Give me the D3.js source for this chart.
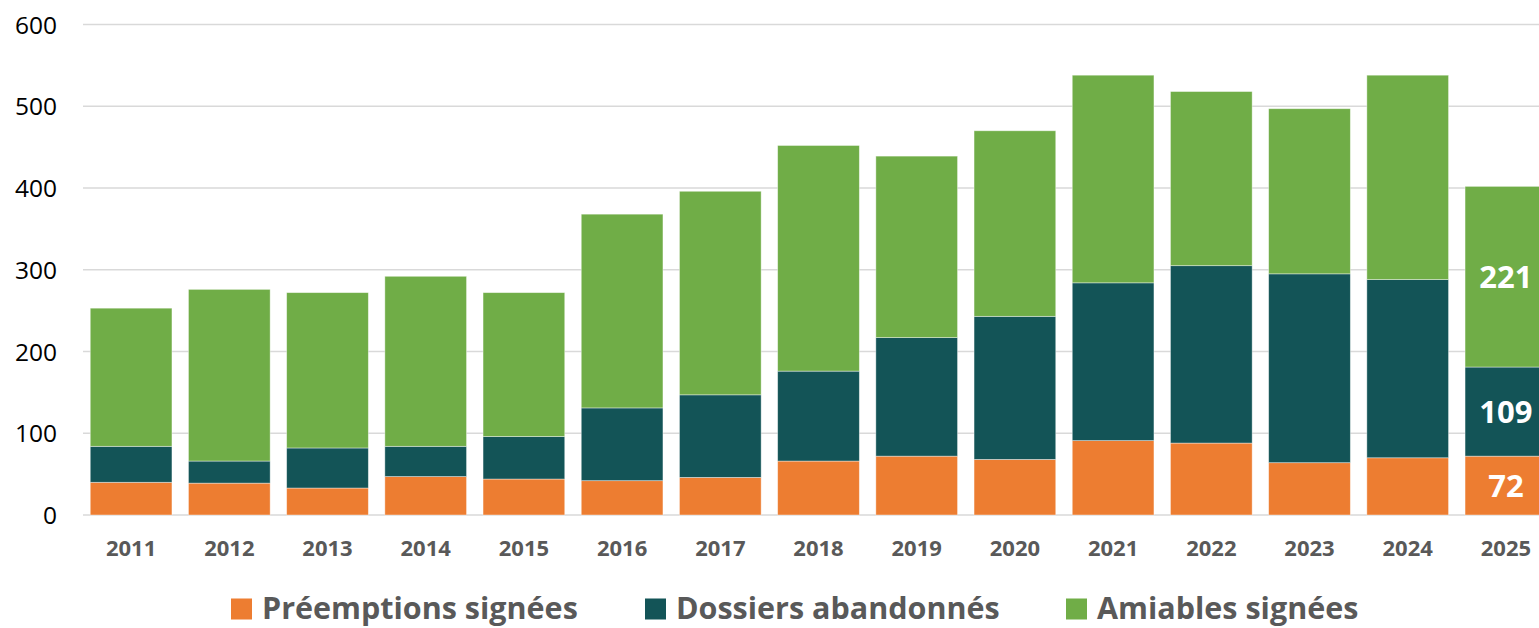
<!DOCTYPE html>
<html><head><meta charset="utf-8">
<script src="https://cdn.jsdelivr.net/npm/d3@7"></script>
<style>html,body{margin:0;padding:0;background:#fff;overflow:hidden}svg{display:block}</style>
</head><body>
<svg id="chart" width="1539" height="628"></svg>
<script>
const years = ["2011","2012","2013","2014","2015","2016","2017","2018","2019","2020","2021","2022","2023","2024","2025"];
const preemptions = [40,39,33,47,44,42,46,66,72,68,91,88,64,70,72];
const abandonnes  = [44,27,49,37,52,89,101,110,145,175,193,217,231,218,109];
const amiables    = [169,210,190,208,176,237,249,276,222,227,254,213,202,250,221];
const seriesNames = ["Préemptions signées","Dossiers abandonnés","Amiables signées"];
const yTicks = [0,100,200,300,400,500,600];
const labelYear = "2025";

const colors = ["#ED7D31","#135457","#70AD47"];
const rows = years.map((y,i)=>({year:y, s0:preemptions[i], s1:abandonnes[i], s2:amiables[i]}));
const stack = d3.stack().keys(["s0","s1","s2"])(rows);

const svg = d3.select("#chart");
const x = d3.scaleBand().domain(years).range([82,1555]).paddingInner(0.168).paddingOuter(0.084);
const y = d3.scaleLinear().domain([0,600]).range([515,24.5]);

const font = "'Open Sans', sans-serif";

// gridlines
svg.append("g").selectAll("line").data(yTicks).join("line")
  .attr("x1",83).attr("x2",1539)
  .attr("y1",d=>y(d)).attr("y2",d=>y(d))
  .attr("stroke","#D9D9D9").attr("stroke-width",1.5);

// y axis labels
const yAxis = d3.axisLeft(y).tickValues(yTicks).tickSize(0).tickPadding(0);
const ya = svg.append("g").attr("transform","translate(57,0)").call(yAxis);
ya.select(".domain").remove();
ya.selectAll("text").attr("font-family",font).attr("font-size",24.5).attr("fill","#000").attr("dy","0.35em");

// bars
svg.append("g").selectAll("g").data(stack).join("g")
  .attr("fill",(d,i)=>colors[i])
  .selectAll("rect").data(d=>d).join("rect")
  .attr("x",d=>x(d.data.year))
  .attr("width",x.bandwidth())
  .attr("y",d=>y(d[1]))
  .attr("height",d=>y(d[0])-y(d[1]))
  .attr("stroke","rgba(255,255,255,0.5)").attr("stroke-width",0.8);

// x axis labels
const xAxis = d3.axisBottom(x).tickSize(0).tickPadding(0);
const xa = svg.append("g").attr("transform","translate(0,548)").call(xAxis);
xa.select(".domain").remove();
xa.selectAll("text").attr("font-family",font).attr("font-size",22).attr("font-weight","bold").attr("fill","#595959").attr("dy","0.35em");

// data labels for last year
const li = years.indexOf(labelYear);
svg.append("g").selectAll("text").data(stack).join("text")
  .attr("x", x(labelYear)+x.bandwidth()/2)
  .attr("y", d=>y((d[li][0]+d[li][1])/2))
  .attr("dy","0.36em")
  .attr("text-anchor","middle")
  .attr("font-family",font).attr("font-size",31).attr("font-weight","bold").attr("fill","#fff")
  .text(d=>d[li].data[d.key]);

// legend
const legendX = [231,645,1066];
const lg = svg.append("g").selectAll("g").data(seriesNames).join("g")
  .attr("transform",(d,i)=>`translate(${legendX[i]},598.5)`);
lg.append("rect").attr("width",21).attr("height",21).attr("fill",(d,i)=>colors[i]);
lg.append("text").attr("x",31).attr("y",20.5)
  .attr("font-family",font).attr("font-size",30.5).attr("font-weight","bold").attr("fill","#595959")
  .text(d=>d);
</script>
</body></html>
